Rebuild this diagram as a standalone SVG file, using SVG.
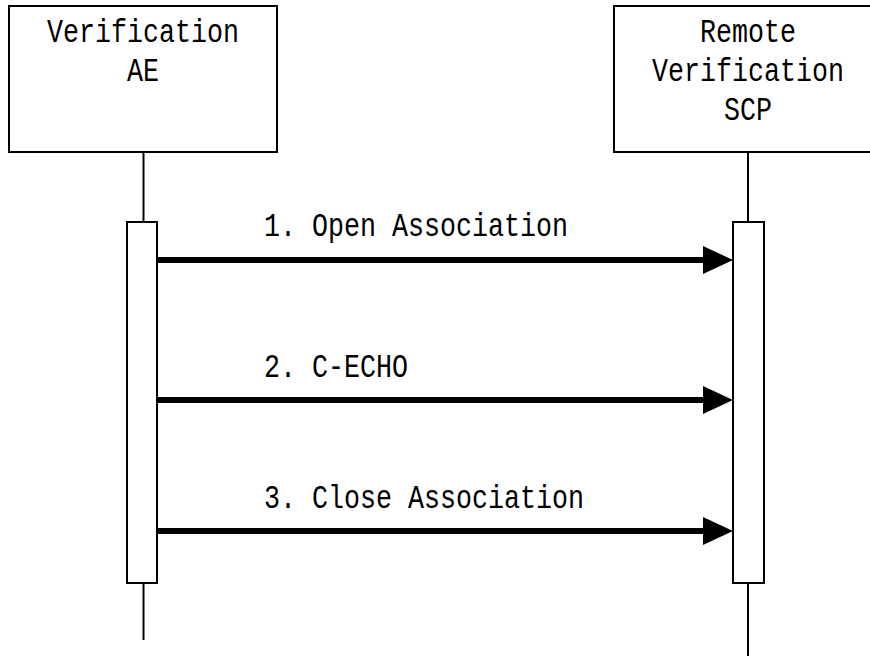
<svg xmlns="http://www.w3.org/2000/svg" width="870" height="656" viewBox="0 0 870 656">
<style>
.box{fill:#fff;stroke:#000;stroke-width:2}
.life{stroke:#000;stroke-width:2;fill:none}
.act{fill:#fff;stroke:#000;stroke-width:2}
.msg{stroke:#000;stroke-width:6;fill:none}
text{font-family:"Liberation Mono","Noto Sans CJK JP",monospace;font-size:34px;fill:#000}
.c{text-anchor:middle}
</style>
<defs>
<marker id="ah" markerUnits="userSpaceOnUse" markerWidth="30" markerHeight="28" refX="2" refY="14" orient="auto" overflow="visible">
<path d="M0,0 L30,14 L0,28 Z" fill="#000"/>
</marker>
</defs>
<rect width="870" height="656" fill="#fff"/>
<g id="verification-ae">
<rect class="box" x="9" y="6" width="268" height="146"/>
<text class="c" x="143" y="42" textLength="192" lengthAdjust="spacingAndGlyphs">Verification</text>
<text class="c" x="143" y="81" textLength="32" lengthAdjust="spacingAndGlyphs">AE</text>
<line class="life" x1="143.5" y1="152" x2="143.5" y2="222"/>
<line class="life" x1="143.5" y1="583" x2="143.5" y2="640"/>
<rect class="act" x="127" y="222" width="30" height="361"/>
</g>
<g id="remote-scp">
<rect class="box" x="614" y="6" width="268" height="146"/>
<text class="c" x="748" y="42" textLength="96" lengthAdjust="spacingAndGlyphs">Remote</text>
<text class="c" x="748" y="81" textLength="192" lengthAdjust="spacingAndGlyphs">Verification</text>
<text class="c" x="748" y="120" textLength="48" lengthAdjust="spacingAndGlyphs">SCP</text>
<line class="life" x1="748" y1="152" x2="748" y2="222"/>
<line class="life" x1="748" y1="583" x2="748" y2="656"/>
<rect class="act" x="733" y="222" width="31" height="361"/>
</g>
<g id="connectors">
<line class="msg" x1="157" y1="260" x2="705" y2="260" marker-end="url(#ah)"/>
<text x="264" y="236" textLength="304" lengthAdjust="spacingAndGlyphs">1. Open Association</text>
<line class="msg" x1="157" y1="400" x2="705" y2="400" marker-end="url(#ah)"/>
<text x="264" y="377" textLength="144" lengthAdjust="spacingAndGlyphs">2. C-ECHO</text>
<line class="msg" x1="157" y1="531" x2="705" y2="531" marker-end="url(#ah)"/>
<text x="264" y="508" textLength="320" lengthAdjust="spacingAndGlyphs">3. Close Association</text>
</g>
</svg>
